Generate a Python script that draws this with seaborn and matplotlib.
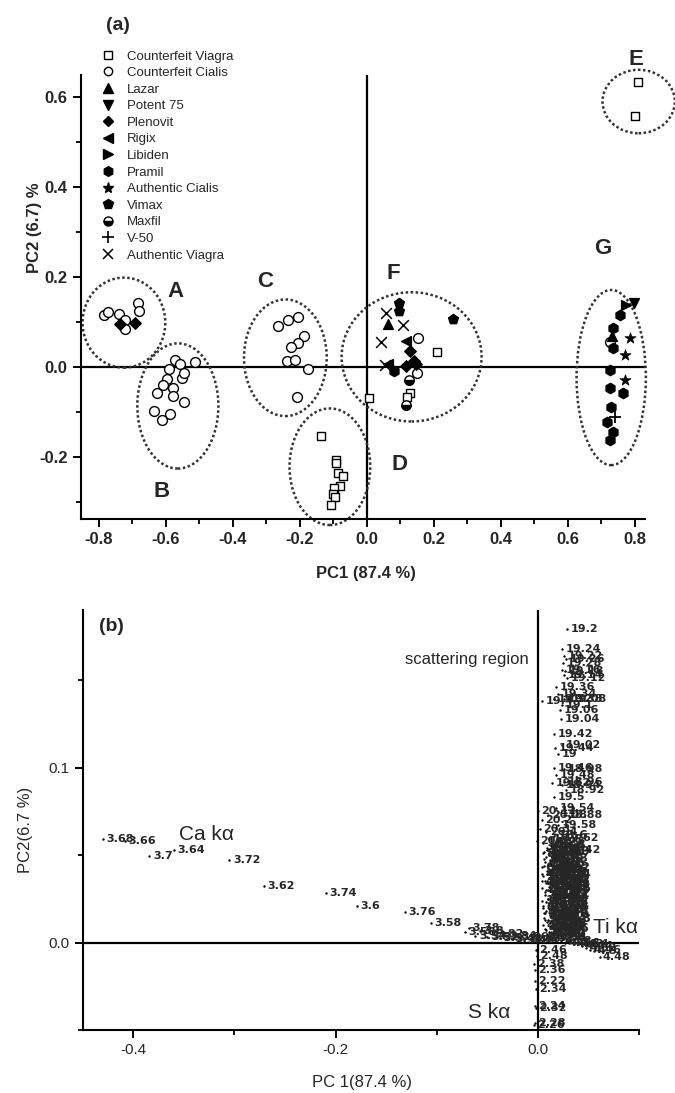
import matplotlib
matplotlib.use("Agg")
import matplotlib.pyplot as plt
import seaborn as sns
from matplotlib.patches import Ellipse
from matplotlib.lines import Line2D
from matplotlib.markers import MarkerStyle
from matplotlib.ticker import MultipleLocator

sns.set_theme(style="ticks")
plt.rcParams["font.family"] = ["Liberation Sans", "DejaVu Sans"]
plt.rcParams["axes.unicode_minus"] = False

# ---------------- Panel (a) data ----------------
cv_x = [-0.137, -0.092, -0.092, -0.085, -0.070, -0.080, -0.098, -0.101, -0.095, -0.107,
        0.811, 0.801, 0.008, 0.209, 0.129, 0.119]
cv_y = [-0.154, -0.206, -0.213, -0.236, -0.243, -0.265, -0.270, -0.283, -0.290, -0.307,
        0.633, 0.556, -0.069, 0.033, -0.059, -0.067]
cc_x = [-0.786, -0.773, -0.741, -0.721, -0.721, -0.682, -0.680,
        -0.572, -0.589, -0.557, -0.513, -0.597, -0.552, -0.547, -0.609, -0.579, -0.627, -0.577,
        -0.547, -0.634, -0.587, -0.610,
        -0.264, -0.234, -0.206, -0.187, -0.204, -0.226, -0.237, -0.214, -0.176, -0.207,
        0.154, 0.151, 0.726]
cc_y = [0.115, 0.122, 0.117, 0.104, 0.083, 0.142, 0.124,
        0.015, -0.006, 0.006, 0.011, -0.028, -0.024, -0.013, -0.041, -0.048, -0.058, -0.065,
        -0.079, -0.098, -0.105, -0.118,
        0.090, 0.104, 0.111, 0.068, 0.053, 0.043, 0.013, 0.016, -0.004, -0.068,
        0.063, -0.013, 0.055]
lazar_x, lazar_y = [0.065, 0.733], [0.095, 0.068]
potent_x, potent_y = [0.798], [0.141]
plenovit_x = [-0.738, -0.692, 0.129, 0.117, 0.147, 0.141]
plenovit_y = [0.095, 0.098, 0.036, 0.002, 0.006, 0.012]
rigix_x, rigix_y = [0.117, 0.065], [0.058, 0.006]
libiden_x, libiden_y = [0.774], [0.137]
pramil_x = [0.756, 0.736, 0.736, 0.726, 0.726, 0.766, 0.728, 0.716, 0.734, 0.726, 0.080]
pramil_y = [0.115, 0.085, 0.041, -0.007, -0.048, -0.059, -0.089, -0.122, -0.144, -0.163, -0.009]
acialis_x, acialis_y = [0.786, 0.771, 0.771], [0.063, 0.026, -0.030]
vimax_x, vimax_y = [0.097, 0.096, 0.257], [0.142, 0.124, 0.107]
maxfil_x, maxfil_y = [0.127, 0.117], [-0.030, -0.085]
v50_x, v50_y = [0.741], [-0.111]
aviagra_x, aviagra_y = [0.058, 0.107, 0.042, 0.055], [0.119, 0.092, 0.056, 0.003]

legend_labels = ["Counterfeit Viagra", "Counterfeit Cialis", "Lazar", "Potent 75", "Plenovit",
                 "Rigix", "Libiden", "Pramil", "Authentic Cialis", "Vimax", "Maxfil", "V-50",
                 "Authentic Viagra"]
cluster_names = ["A", "B", "C", "D", "E", "F", "G"]

# ---------------- Panel (b) data ----------------
ca_lbl = ["3.68", "3.66", "3.7", "3.64", "3.72", "3.62", "3.74", "3.6", "3.76", "3.58",
          "3.56", "3.78", "3.54", "3.8", "3.52", "3.82", "3.5", "3.84", "3.48", "3.86", "3.46", "3.88"]
ca_x = [-0.430, -0.408, -0.384, -0.360, -0.305, -0.271, -0.210, -0.179, -0.132, -0.106,
        -0.072, -0.068, -0.062, -0.057, -0.050, -0.045, -0.038, -0.032, -0.026, -0.020, -0.014, -0.008]
ca_y = [0.0593, 0.0580, 0.0496, 0.0529, 0.0471, 0.0325, 0.0283, 0.0209, 0.0175, 0.0110,
        0.0060, 0.0085, 0.0040, 0.0065, 0.0030, 0.0050, 0.0025, 0.0040, 0.0020, 0.0030, 0.0015, 0.0020]

sc_lbl = ["19.2", "19.24", "19.22", "19.26", "19.28", "19.16", "19.18", "19.14", "19.12",
          "19.36", "19.34", "19.38", "19.08", "19.4", "19.1", "19.06", "19.32", "19.04",
          "19.42", "19.02", "19.44", "19", "19.46", "18.98", "19.48", "18.96", "19.52",
          "18.94", "18.92", "19.5", "20.12", "19.54", "20.08", "18.88", "20.2", "19.58",
          "20.3", "20.4", "19.62", "20.6", "18.6", "18.42"]
sc_x = [0.029, 0.024, 0.026, 0.028, 0.025, 0.024, 0.027, 0.026, 0.029,
        0.018, 0.020, 0.026, 0.030, 0.004, 0.024, 0.022, 0.016, 0.023,
        0.016, 0.024, 0.017, 0.020, 0.016, 0.026, 0.018, 0.026, 0.014,
        0.024, 0.028, 0.016, 0.000, 0.018, 0.010, 0.026, 0.004, 0.020,
        0.002, 0.008, 0.022, -0.001, 0.016, 0.024]
sc_y = [0.179, 0.168, 0.164, 0.162, 0.160, 0.156, 0.155, 0.153, 0.151,
        0.146, 0.142, 0.139, 0.139, 0.138, 0.136, 0.133, 0.139, 0.128,
        0.119, 0.113, 0.111, 0.108, 0.0996, 0.099, 0.096, 0.092, 0.091,
        0.090, 0.087, 0.083, 0.075, 0.077, 0.073, 0.073, 0.070, 0.067,
        0.065, 0.063, 0.060, 0.058, 0.056, 0.053]

blk_lbl = ["8.04", "8.62", "9.58", "7.46", "10.5", "6.94", "11.2", "6.4", "12.6", "5.9",
           "13.4", "5.42", "14.8", "5.04", "15.7", "4.96", "16.6", "4.62", "17.4", "4.58",
           "18.2", "4.56", "9.86", "4.54", "10.9", "4.44", "12.2", "4.42", "13.8", "4.4",
           "6.28", "4.38", "7.02", "4.36", "7.88", "4.34", "8.34", "4.32", "9.24", "10.1",
           "11.6", "12.9", "14.1", "15.3", "16.2", "17.8", "18.6", "6.7", "7.24", "8.92",
           "5.66", "6.12", "11.9", "13.1", "14.4", "15.9", "9.04", "10.7", "12.4", "5.22"]
blk_x = [0.005, 0.011, 0.016, 0.007, 0.013, 0.004, 0.018, 0.009, 0.015, 0.005,
         0.011, 0.017, 0.008, 0.014, 0.004, 0.019, 0.010, 0.016, 0.007, 0.013,
         0.017, 0.008, 0.014, 0.005, 0.011, 0.017, 0.007, 0.013, 0.019, 0.010,
         0.015, 0.005, 0.012, 0.017, 0.008, 0.014, 0.010, 0.004, 0.019, 0.006,
         0.013, 0.018, 0.009, 0.014, 0.005, 0.011, 0.016, 0.007, 0.016, 0.010,
         0.012, 0.017, 0.004, 0.014, 0.010, 0.016, 0.007, 0.018, 0.008, 0.013]
blk_y = [0.051, 0.050, 0.048, 0.046, 0.045, 0.043, 0.043, 0.041, 0.040, 0.038,
         0.037, 0.036, 0.034, 0.033, 0.031, 0.031, 0.030, 0.028, 0.027, 0.026,
         0.024, 0.023, 0.022, 0.020, 0.019, 0.018, 0.017, 0.015, 0.014, 0.013,
         0.011, 0.010, 0.009, 0.008, 0.007, 0.005, 0.004, 0.003, 0.039, 0.048,
         0.052, 0.052, 0.054, 0.056, 0.057, 0.059, 0.061, 0.035, 0.020, 0.025,
         0.040, 0.028, 0.024, 0.036, 0.044, 0.032, 0.013, 0.035, 0.049, 0.006]

blk2_lbl = ["4.3", "4.28", "4.26", "4.24", "4.22", "4.2", "4.18", "4.16", "4.14", "4.12",
            "4.1", "4.08", "4.06", "4.04", "4.02", "4.0", "3.98", "3.96", "3.94", "3.92", "3.9",
            "4.6", "4.64", "4.66", "4.68", "4.7", "4.72", "4.74", "4.76", "4.78", "4.8",
            "4.82", "4.84", "4.86", "4.88", "4.9", "4.92", "4.94", "4.98", "5.0"]
blk2_x = [0.012, 0.006, 0.016, 0.009, 0.014, 0.004, 0.018, 0.011, 0.007, 0.015,
          0.010, 0.013, 0.005, 0.017, 0.008, 0.012, 0.006, 0.016, 0.009, 0.014, 0.011,
          0.015, 0.009, 0.013, 0.006, 0.018, 0.011, 0.004, 0.016, 0.008, 0.014,
          0.010, 0.017, 0.006, 0.012, 0.019, 0.009, 0.015, 0.007, 0.013]
blk2_y = [0.047, 0.044, 0.042, 0.039, 0.037, 0.035, 0.033, 0.032, 0.029, 0.027,
          0.025, 0.023, 0.021, 0.021, 0.018, 0.016, 0.014, 0.016, 0.012, 0.009, 0.006,
          0.050, 0.053, 0.055, 0.052, 0.046, 0.042, 0.039, 0.036, 0.030, 0.028,
          0.034, 0.026, 0.017, 0.011, 0.009, 0.005, 0.003, 0.008, 0.031]

ti_lbl = ["4.48", "4.5", "4.46", "4.52", "4.44", "4.54", "4.42", "4.56", "4.4", "4.58"]
ti_x = [0.0607, 0.055, 0.051, 0.047, 0.043, 0.039, 0.035, 0.031, 0.027, 0.023]
ti_y = [-0.008, -0.005, -0.004, -0.003, -0.002, -0.001, -0.001, 0.000, 0.000, 0.001]

s_lbl = ["2.46", "2.48", "2.38", "2.36", "2.22", "2.34", "2.24", "2.32", "2.26", "2.28"]
s_x = [-0.002, -0.001, -0.004, -0.003, -0.003, -0.002, -0.003, -0.002, -0.004, -0.003]
s_y = [-0.004, -0.0076, -0.012, -0.0156, -0.022, -0.0265, -0.0365, -0.0375, -0.047, -0.046]

# ---------------- Figure ----------------
fig = plt.figure(figsize=(6.75, 10.93), dpi=100)
axa = fig.add_axes([0.1196, 0.5252, 0.836, 0.4062])
axb = fig.add_axes([0.1225, 0.0576, 0.8246, 0.3843])

K = "black"


def pts(ax, xs, ys, marker, s, face, lw=1.0, z=3):
    if marker in ("+", "x"):
        sns.scatterplot(x=xs, y=ys, ax=ax, marker=marker, s=s, color=K, linewidth=lw,
                        legend=False, zorder=z)
    else:
        sns.scatterplot(x=xs, y=ys, ax=ax, marker=marker, s=s, color=face, edgecolor=K,
                        linewidth=lw, legend=False, zorder=z)


pts(axa, cv_x, cv_y, "s", 34, "white")
pts(axa, cc_x, cc_y, "o", 50, "white")
pts(axa, lazar_x, lazar_y, "^", 50, K)
pts(axa, potent_x, potent_y, "v", 50, K)
pts(axa, plenovit_x, plenovit_y, "D", 34, K)
pts(axa, rigix_x, rigix_y, "<", 50, K)
pts(axa, libiden_x, libiden_y, ">", 50, K)
pts(axa, pramil_x, pramil_y, "h", 55, K)
pts(axa, acialis_x, acialis_y, "*", 70, K, lw=0.5)
pts(axa, vimax_x, vimax_y, "p", 55, K)
pts(axa, maxfil_x, maxfil_y, "o", 45, "white")
axa.scatter(maxfil_x, maxfil_y, marker=MarkerStyle("o", fillstyle="bottom"), s=45,
            color=K, zorder=4)
pts(axa, v50_x, v50_y, "+", 80, K, lw=1.3)
pts(axa, aviagra_x, aviagra_y, "x", 60, K, lw=1.1)

# cluster ellipses (centre x, centre y, width, height) and letter positions
ell_specs = [(-0.725, 0.098, 0.247, 0.200), (-0.564, -0.087, 0.242, 0.278),
             (-0.243, 0.020, 0.247, 0.259), (-0.110, -0.222, 0.241, 0.259),
             (0.812, 0.589, 0.216, 0.141), (0.134, 0.022, 0.418, 0.287),
             (0.730, -0.024, 0.207, 0.389)]
letter_pos = [(-0.572, 0.167), (-0.612, -0.276), (-0.304, 0.189), (0.099, -0.218),
              (0.804, 0.682), (0.080, 0.207), (0.704, 0.263)]
for (cx, cy, w, h), name, (lx, ly) in zip(ell_specs, cluster_names, letter_pos):
    axa.add_patch(Ellipse((cx, cy), w, h, fill=False, ls=(0, (1, 1)), lw=1.8,
                          ec="#333333", clip_on=False, zorder=2))
    axa.text(lx, ly, name, fontsize=16, fontweight="bold", ha="center", va="center",
             clip_on=False)

axa.axhline(0, color=K, lw=1.6, zorder=1)
axa.axvline(0, color=K, lw=1.6, zorder=1)
axa.set_xlim(-0.854, 0.831)
axa.set_ylim(-0.338, 0.648)
axa.xaxis.set_major_locator(MultipleLocator(0.2))
axa.xaxis.set_minor_locator(MultipleLocator(0.1))
axa.yaxis.set_major_locator(MultipleLocator(0.2))
axa.yaxis.set_minor_locator(MultipleLocator(0.1))
axa.set_xlabel("PC1 (87.4 %)", fontsize=12, fontweight="bold")
axa.set_ylabel("PC2 (6.7) %", fontsize=12, fontweight="bold")
axa.xaxis.set_label_coords(0.506, -0.106)
axa.yaxis.set_label_coords(-0.068, 0.655)
for lab in axa.get_xticklabels() + axa.get_yticklabels():
    lab.set_fontweight("bold")
axa.tick_params(labelsize=12)

handles = [
    Line2D([], [], ls="", marker="s", mfc="white", mec=K, ms=5.5),
    Line2D([], [], ls="", marker="o", mfc="white", mec=K, ms=6),
    Line2D([], [], ls="", marker="^", color=K, ms=7),
    Line2D([], [], ls="", marker="v", color=K, ms=7),
    Line2D([], [], ls="", marker="D", color=K, ms=5.5),
    Line2D([], [], ls="", marker="<", color=K, ms=7),
    Line2D([], [], ls="", marker=">", color=K, ms=7),
    Line2D([], [], ls="", marker="h", color=K, ms=7),
    Line2D([], [], ls="", marker="*", color=K, ms=8),
    Line2D([], [], ls="", marker="p", color=K, ms=7),
    Line2D([], [], ls="", marker="o", mfc=K, mec=K, mfcalt="white", fillstyle="bottom", ms=6.5),
    Line2D([], [], ls="", marker="+", color=K, ms=8, mew=1.2),
    Line2D([], [], ls="", marker="x", color=K, ms=7, mew=1.1),
]
fig.legend(handles, legend_labels, loc="upper left", bbox_to_anchor=(0.1507, 0.954),
           frameon=False, fontsize=9.5, handlelength=1.0, handletextpad=0.9,
           labelspacing=0.33, borderpad=0, borderaxespad=0)
fig.text(0.175, 0.977, "(a)", fontsize=14, fontweight="bold", ha="center", va="center")

# ---------------- Panel (b) ----------------
bx = ca_x + sc_x + blk_x + blk2_x + ti_x + s_x
by = ca_y + sc_y + blk_y + blk2_y + ti_y + s_y
sns.scatterplot(x=bx, y=by, ax=axb, s=3, color=K, linewidth=0, legend=False, zorder=3)
for lbls, xs, ys, fs in [(ca_lbl, ca_x, ca_y, 8), (sc_lbl, sc_x, sc_y, 8),
                         (blk_lbl, blk_x, blk_y, 9), (blk2_lbl, blk2_x, blk2_y, 9),
                         (ti_lbl, ti_x, ti_y, 8), (s_lbl, s_x, s_y, 8)]:
    for t, x, y in zip(lbls, xs, ys):
        axb.annotate(t, (x, y), xytext=(2.5, 0), textcoords="offset points", fontsize=fs,
                     fontweight="bold", family="DejaVu Sans", va="center", ha="left",
                     zorder=3, annotation_clip=False)

axb.axhline(0, color=K, lw=1.6, zorder=1)
axb.axvline(0, color=K, lw=1.6, zorder=1)
axb.set_xlim(-0.45, 0.10)
axb.set_ylim(-0.05, 0.19)
axb.xaxis.set_major_locator(MultipleLocator(0.2))
axb.xaxis.set_minor_locator(MultipleLocator(0.1))
axb.yaxis.set_major_locator(MultipleLocator(0.1))
axb.yaxis.set_minor_locator(MultipleLocator(0.05))
axb.set_xlabel("PC 1(87.4 %)", fontsize=12)
axb.set_ylabel("PC2(6.7 %)", fontsize=12)
axb.xaxis.set_label_coords(0.501, -0.107)
axb.yaxis.set_label_coords(-0.09, 0.476)
axb.tick_params(labelsize=11)
axb.text(-0.132, 0.162, "scattering region", fontsize=12, va="center", ha="left")
axb.text(-0.355, 0.062, "Ca k\u03b1", fontsize=15, va="center", ha="left")
axb.text(0.054, 0.0084, "Ti k\u03b1", fontsize=15, va="center", ha="left", clip_on=False)
axb.text(-0.0696, -0.040, "S k\u03b1", fontsize=15, va="center", ha="left")
axb.text(0.03, 0.96, "(b)", transform=axb.transAxes, fontsize=14, fontweight="bold",
         ha="left", va="center")

for ax in (axa, axb):
    sns.despine(ax=ax)
    ax.set_facecolor("white")
    for sp in ("left", "bottom"):
        ax.spines[sp].set_linewidth(1.5)
        ax.spines[sp].set_color(K)
    ax.tick_params(which="major", direction="out", length=6, width=1.4, color=K)
    ax.tick_params(which="minor", direction="out", length=3.5, width=1.3, color=K)
    ax.grid(False)

fig.savefig("out.png", dpi=100, facecolor="white")
